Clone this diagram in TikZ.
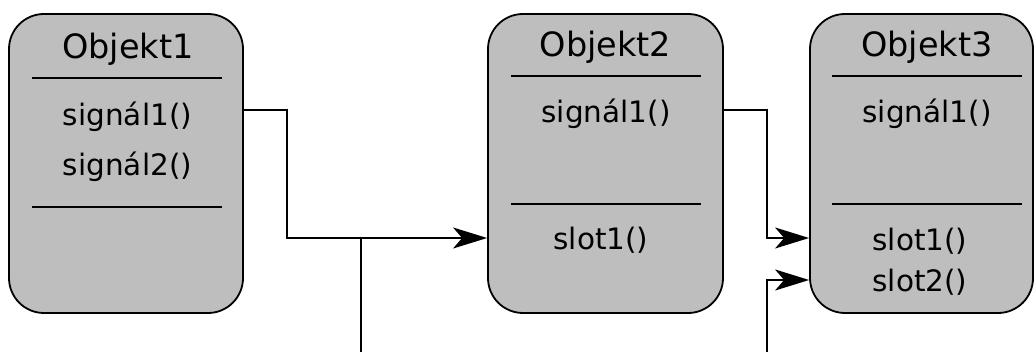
\documentclass[tikz,border=0pt]{standalone}
\usepackage{fontspec}
\setmainfont{DejaVu Sans}
\usetikzlibrary{arrows.meta}
\definecolor{boxgray}{RGB}{190,190,190}
\tikzset{
  objbox/.style={draw=black, line width=1.8pt, fill=boxgray, rounded corners=35pt, minimum height=299pt, inner sep=0pt},
  divider/.style={line width=1.8pt},
  conn/.style={line width=1.8pt},
  arr/.style={conn, -{Stealth[length=34pt, width=21pt, inset=9pt]}},
  title/.style={anchor=base, inner sep=0pt, font=\fontsize{33.5}{40}\selectfont},
  member/.style={anchor=base, inner sep=0pt, font=\fontsize{29.5}{36}\selectfont},
}
\begin{document}
\begin{tikzpicture}[x=1pt, y=-1pt]
\useasboundingbox (0,0) rectangle (1035,352);
% boxes
\node[objbox, minimum width=234pt] (o1) at (126,163.5) {};
\node[objbox, minimum width=235pt] (o2) at (605.5,163.5) {};
\node[objbox, minimum width=223pt] (o3) at (921.5,163.5) {};
% dividers
\draw[divider] (32,78) -- (222,78);
\draw[divider] (32,207) -- (222,207);
\draw[divider] (511,76) -- (701,76);
\draw[divider] (511,204) -- (701,204);
\draw[divider] (832,76) -- (1022,76);
\draw[divider] (832,204) -- (1022,204);
% texts
\node[title] (t1) at (128,59) {Objekt1};
\node[title] (t2) at (605.5,57) {Objekt2};
\node[title] (t3) at (927,57) {Objekt3};
\node[member] (s11) at (127.5,126) {signál1()};
\node[member] (s12) at (127.5,176) {signál2()};
\node[member] (s21) at (606,123) {signál1()};
\node[member] (l21) at (601,250) {slot1()};
\node[member] (s31) at (927,123) {signál1()};
\node[member] (l31) at (920,251) {slot1()};
\node[member] (l32) at (920,292) {slot2()};
% helper coordinates
\coordinate (ya) at (0,110);
\coordinate (yb) at (0,238);
\coordinate (yc) at (0,280);
\coordinate (xa) at (287,0);
\coordinate (xb) at (767,0);
\coordinate (ja) at (361,238);
\coordinate (ea) at (361,352);
\coordinate (eb) at (767,352);
% connectors
\draw[arr] (o1.east |- ya) -- (xa |- ya) -- (xa |- yb) -- (o2.west |- yb);
\draw[conn] (ja) -- (ea);
\draw[arr] (o2.east |- ya) -- (xb |- ya) -- (xb |- yb) -- (o3.west |- yb);
\draw[arr] (eb) -- (xb |- yc) -- (o3.west |- yc);
\end{tikzpicture}
\end{document}
